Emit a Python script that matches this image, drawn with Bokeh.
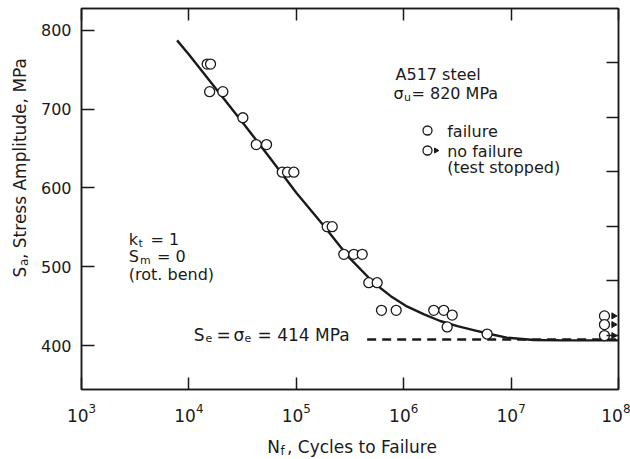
import math
from bokeh.plotting import figure
from bokeh.layouts import column, row
from bokeh.models import Range1d, LinearAxis, LogAxis, Label, FixedTicker, LogTicker
from bokeh.embed import file_html
from bokeh.resources import INLINE

# ---------------- data ----------------
fail_N = [14800, 15900, 15600, 20700, 31800, 42400, 52800, 74000, 82800, 94900,
          194000, 216000, 277000, 343000, 411000, 473000, 566000, 621000, 851000,
          1.905e6, 2.36e6, 2.83e6, 2.54e6, 5.98e6]
fail_S = [757, 757, 722, 722, 689, 655, 655, 620, 620, 620,
          551, 551, 516, 516, 516, 480, 480, 445, 445,
          445, 445, 439, 424, 415]
runout_N = [7.4e7, 7.4e7, 7.4e7]
runout_S = [438, 427, 413]
curve_logN = [3.89, 4.0, 4.25, 4.5, 4.75, 5.0, 5.25, 5.49, 5.72, 5.88, 6.03, 6.19,
              6.34, 6.5, 6.65, 6.8, 6.96, 7.21, 7.5, 8.0]
curve_S = [787, 769, 726, 683, 639, 594, 553, 512, 480, 463, 450, 440,
           431.5, 425, 420, 415, 410.5, 407.5, 407, 407]
se_N = [4.57e5, 1e8]
se_S = [408, 408]
y_ticks = [400, 500, 600, 700, 800]
ksi_ticks = [60, 70, 80, 90, 100, 110]
KSI = 6.8948  # MPa per ksi

# ---------------- layout ----------------
W, H = 630, 459
YW = 36            # strip on the left holding the y title
PH = 425           # height of the main plot
XH = H - PH        # strip at the bottom holding the x title
FL, FR, FT, FB = 81, 618, 8, 389   # frame edges in page pixels
X0, X1 = 1e3, 1e8
Y0, Y1 = 50 * KSI, 120 * KSI
INK = "#1a1a1a"
FONT = "DejaVu Sans"
BL = 6             # baseline correction for label placement


def sx_to_x(sx):
    return 10 ** (math.log10(X0) + (sx - FL) / (FR - FL) * (math.log10(X1) - math.log10(X0)))


def sy_to_y(sy):
    return Y0 + (FB - sy) / (FB - FT) * (Y1 - Y0)


p = figure(width=W - YW, height=PH, x_axis_type="log", title=None,
           x_range=Range1d(X0, X1), y_range=Range1d(Y0, Y1),
           output_backend="svg", toolbar_location=None,
           min_border_left=FL - YW, min_border_right=W - FR,
           min_border_top=FT, min_border_bottom=PH - FB)
p.grid.visible = False
p.outline_line_color = INK
p.outline_line_width = 1.5
p.background_fill_color = "white"
p.border_fill_color = "white"

# bottom axis
xa = p.xaxis[0]
xa.ticker = LogTicker(desired_num_ticks=6)
xa.major_tick_in = 12
xa.major_tick_out = 0
xa.minor_tick_line_color = None
xa.axis_line_color = INK
xa.axis_line_width = 1.5
xa.major_tick_line_color = INK
xa.major_tick_line_width = 1.5
xa.major_label_text_font = FONT
xa.major_label_text_font_size = "17px"
xa.major_label_text_color = INK
xa.major_label_standoff = 9

# left axis
ya = p.yaxis[0]
ya.ticker = FixedTicker(ticks=y_ticks)
ya.major_tick_in = 13
ya.major_tick_out = 0
ya.minor_tick_line_color = None
ya.axis_line_color = INK
ya.axis_line_width = 1.5
ya.major_tick_line_color = INK
ya.major_tick_line_width = 1.5
ya.major_label_text_font = FONT
ya.major_label_text_font_size = "16px"
ya.major_label_text_color = INK
ya.major_label_standoff = 10

# top axis (ticks only)
ta = LogAxis(ticker=LogTicker(desired_num_ticks=6), major_tick_in=12, major_tick_out=0,
             minor_tick_line_color=None, axis_line_color=INK, axis_line_width=1.5,
             major_tick_line_color=INK, major_tick_line_width=1.5,
             major_label_text_font_size="1px", major_label_text_color=None,
             major_label_standoff=0)
p.add_layout(ta, "above")

# right axis in ksi (ticks only)
p.extra_y_ranges = {"ksi": Range1d(50, 120)}
ra = LinearAxis(y_range_name="ksi", ticker=FixedTicker(ticks=ksi_ticks),
                major_tick_in=12, major_tick_out=0, minor_tick_line_color=None,
                axis_line_color=INK, axis_line_width=1.5,
                major_tick_line_color=INK, major_tick_line_width=1.5,
                major_label_text_font_size="1px", major_label_text_color=None,
                major_label_standoff=0)
p.add_layout(ra, "right")

# curve and endurance line
p.line([10 ** v for v in curve_logN], curve_S, line_color=INK, line_width=2.4)
p.line(se_N, se_S, line_color=INK, line_width=2.4, line_dash="9 6")

# data
p.scatter(fail_N, fail_S, marker="circle", size=10, fill_color="white",
          line_color=INK, line_width=1.3)
p.scatter(runout_N, runout_S, marker="circle", size=10, fill_color="white",
          line_color=INK, line_width=1.3)
p.scatter([n * 10 ** 0.085 for n in runout_N], runout_S, marker="triangle",
          angle=-math.pi / 2, size=6, fill_color=INK, line_color=INK)

# legend symbols
p.scatter([sx_to_x(427), sx_to_x(427)], [sy_to_y(130), sy_to_y(150)], marker="circle",
          size=9, fill_color="white", line_color=INK, line_width=1.3)
p.scatter([sx_to_x(435.5)], [sy_to_y(150)], marker="triangle", angle=-math.pi / 2,
          size=5, fill_color=INK, line_color=INK)


def lab(fig, text, x, y, size=16, angle=0.0):
    fig.add_layout(Label(x=x, y=y, x_units="screen", y_units="screen",
                         text=text, text_font=FONT, text_font_size=f"{size}px",
                         text_color=INK, text_align="left", text_baseline="alphabetic",
                         angle=angle))


def plab(text, sx, sy, size=16):
    lab(p, text, sx - FL, FB - (sy - BL), size)


SUB = 11
# material block
plab("A517 steel", 395, 80)
plab("\u03c3", 393, 99)
plab("u", 403.5, 103, SUB)
plab("= 820 MPa", 411, 99)
plab("failure", 446.7, 137)
plab("no failure", 446.7, 156.5)
plab("(test stopped)", 446.7, 172.5)

# test conditions
plab("k", 128.3, 245)
plab("t", 138, 249, SUB)
plab("= 1", 150, 245)
plab("S", 128.3, 261.7)
plab("m", 139.5, 265.5, SUB)
plab("= 0", 156.5, 261.7)
plab("(rot. bend)", 128.3, 280)

# endurance limit
plab("S", 193.3, 340, 17)
plab("e", 205, 343.5, SUB)
plab("=", 216, 340, 17)
plab("\u03c3", 233, 340, 17)
plab("e", 244, 343.5, SUB)
plab("= 414 MPa", 257, 340, 17)


def blank(width, height):
    f = figure(width=width, height=height, output_backend="svg", toolbar_location=None,
               title=None, x_range=Range1d(0, 1), y_range=Range1d(0, 1),
               x_axis_location=None, y_axis_location=None,
               min_border=0, min_border_left=0, min_border_right=0,
               min_border_top=0, min_border_bottom=0)
    f.grid.visible = False
    f.outline_line_color = None
    f.background_fill_color = "white"
    f.border_fill_color = "white"
    return f


# y title strip
yf = blank(YW, PH)
R = math.pi / 2
lab(yf, "S", 25 - BL, PH - 313, 17, R)
lab(yf, "a", 29 - BL, PH - 301.5, 12, R)
lab(yf, ", Stress Amplitude, MPa", 25 - BL, PH - 294.5, 17, R)

# x title strip
xf = blank(W, XH)
lab(xf, "N", 266.7, H - (452 - BL), 17)
lab(xf, "f", 280, H - (456 - BL), 12)
lab(xf, ", Cycles to Failure", 286.5, H - (452 - BL), 17)

layout = column(row(yf, p, spacing=0), xf, spacing=0)
open("out.html", "w").write(file_html(layout, INLINE))
